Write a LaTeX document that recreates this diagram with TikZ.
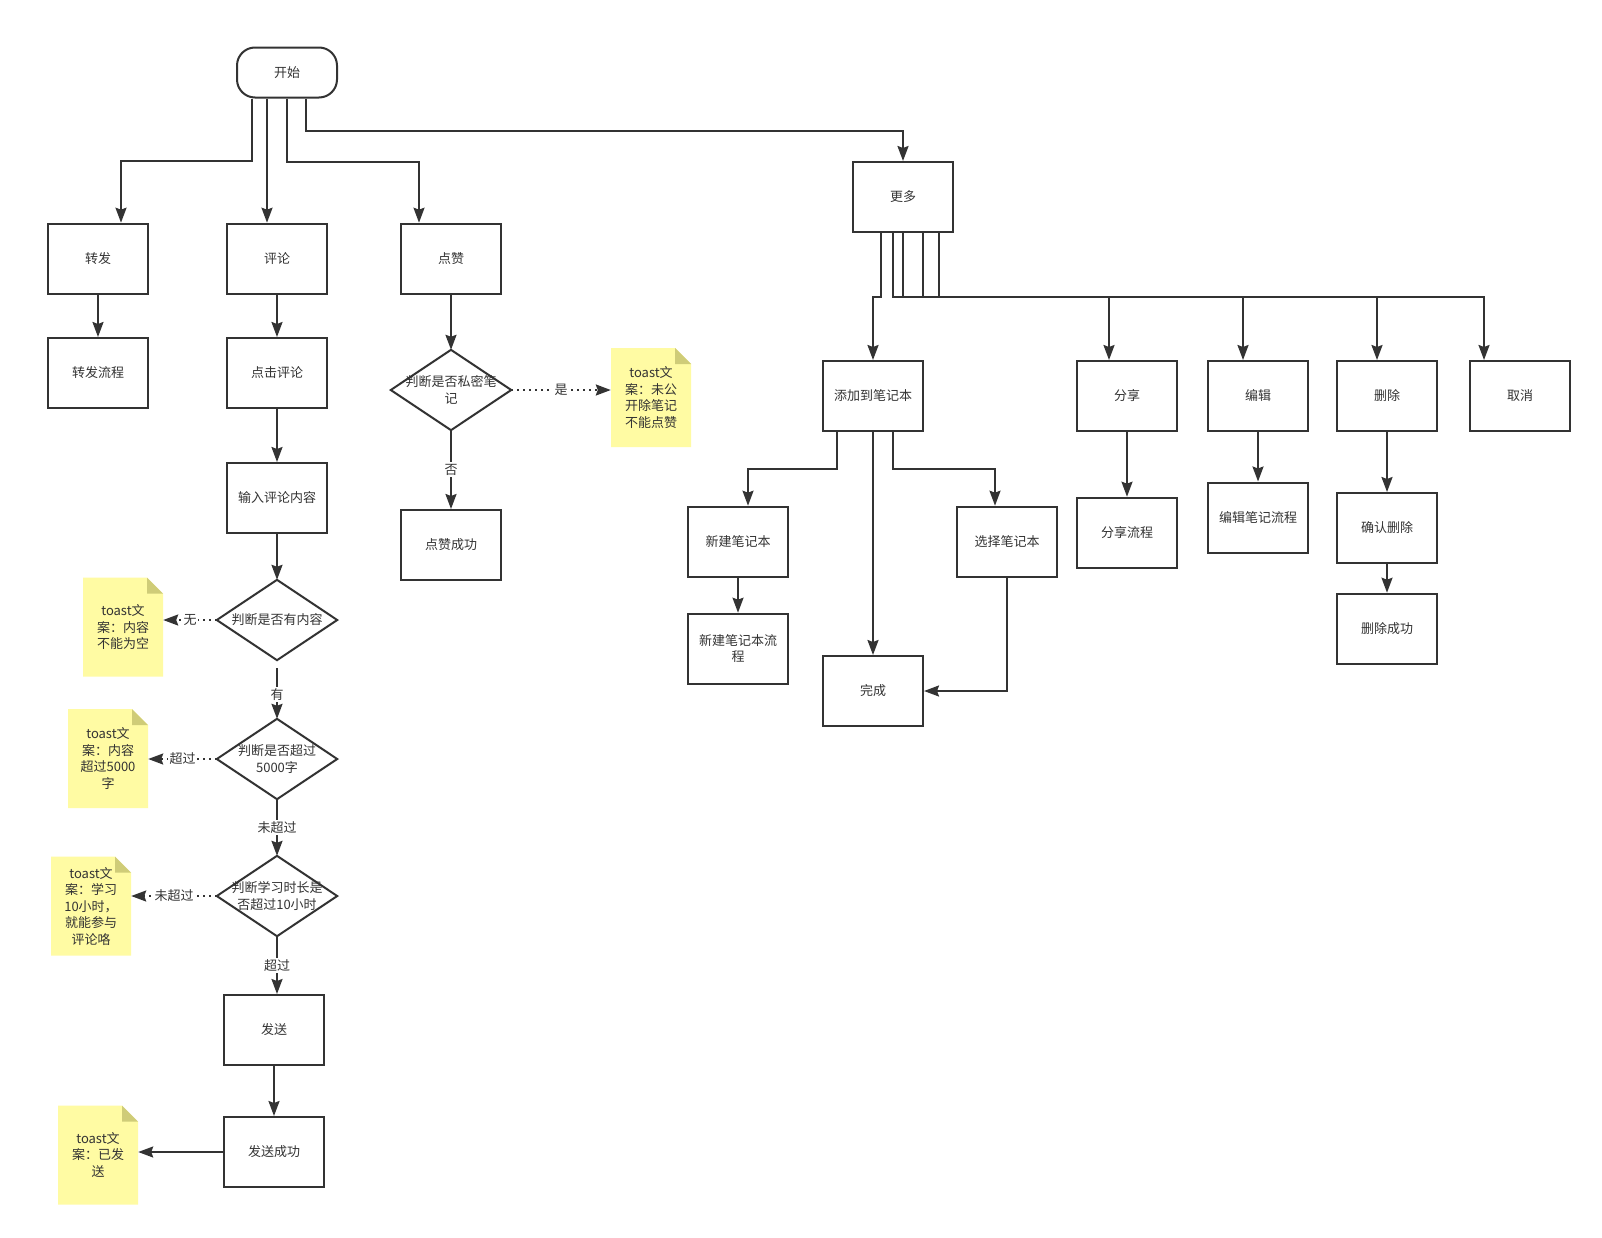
\documentclass[tikz,border=0pt]{standalone}
\usepackage{fontspec}
\setmainfont{Noto Sans CJK SC}
\usetikzlibrary{arrows.meta}
\definecolor{ln}{HTML}{333333}
\definecolor{notey}{RGB}{255,251,163}
\definecolor{notef}{RGB}{207,204,120}
\newcommand\mynote[3]{%
  \begin{scope}[shift={#2}]
    \fill[notey] (-40,-49.5) -- (24,-49.5) -- (40,-33.5) -- (40,49.5) -- (-40,49.5) -- cycle;
    \fill[notef] (24,-49.5) -- (24,-33.5) -- (40,-33.5) -- cycle;
  \end{scope}
  \node[notetext] (#1) at #2 {#3};}
\newcommand\mydiamond[3]{%
  \node[dtext] (#1) at #2 {#3};
  \draw[ln, line width=2pt, line join=miter] (#1.north) -- (#1.east) -- (#1.south) -- (#1.west) -- cycle;}
\begin{document}
\begin{tikzpicture}[x=1pt,y=-1pt,
  every node/.style={font=\fontsize{13}{16.5}\selectfont, text=ln},
  box/.style={draw=ln, line width=2pt, minimum width=100pt, minimum height=70pt, inner sep=2pt, align=center},
  term/.style={draw=ln, line width=2pt, minimum width=100pt, minimum height=50pt, rounded corners=18pt},
  dtext/.style={minimum width=120pt, minimum height=80pt, inner sep=0pt, align=center},
  notetext/.style={minimum width=80pt, minimum height=99pt, inner sep=0pt, align=center},
  arr/.style={draw=ln, line width=2pt, -{Stealth[length=15pt,width=11pt,inset=2pt]}},
  dot/.style={arr, dash pattern=on 2pt off 4pt},
  lbl/.style={fill=white, inner sep=1.5pt}]
\fill[white] (0,0) rectangle (1602,1237);
\useasboundingbox (0,0) rectangle (1602,1237);

% top
\node[term] (start) at (287,72.5) {开始};
\node[box] (zf) at (98,258.7) {转发};
\node[box] (pl) at (277,258.7) {评论};
\node[box] (dz) at (451,258.7) {点赞};
\node[box] (zflc) at (98,373) {转发流程};
\node[box] (djpl) at (277,373) {点击评论};
\node[box] (srpl) at (277,498) {输入评论内容};
\mydiamond{d1}{(277,620)}{判断是否有内容}
\mydiamond{d2}{(277,759)}{判断是否超过\\5000字}
\mydiamond{d3}{(277,896)}{判断学习时长是\\否超过10小时}
\node[box] (fs) at (274,1030) {发送};
\node[box] (fscg) at (274,1152) {发送成功};
\mynote{n1}{(123,627)}{toast文\\案：内容\\不能为空}
\mynote{n2}{(108,758.5)}{toast文\\案：内容\\超过5000\\字}
\mynote{n3}{(91,906)}{toast文\\案：学习\\10小时，\\就能参与\\评论咯}
\mynote{n4}{(98,1155)}{toast文\\案：已发\\送}

\mydiamond{dzd}{(451,390)}{判断是否私密笔\\记}
\mynote{nz}{(651,397.5)}{toast文\\案：未公\\开除笔记\\不能点赞}
\node[box] (dzcg) at (451,545) {点赞成功};

% more
\node[box] (gd) at (903,197) {更多};
\node[box] (tj) at (873,396) {添加到笔记本};
\node[box] (fx) at (1127,396) {分享};
\node[box] (bj) at (1258,396) {编辑};
\node[box] (sc) at (1387,396) {删除};
\node[box] (qx) at (1520,396) {取消};
\node[box] (xj) at (738,541.7) {新建笔记本};
\node[box] (xjlc) at (738,648.7) {新建笔记本流\\程};
\node[box] (wc) at (873,691) {完成};
\node[box] (xz) at (1007,541.7) {选择笔记本};
\node[box] (fxlc) at (1127,532.7) {分享流程};
\node[box] (bjlc) at (1258,517.5) {编辑笔记流程};
\node[box] (qrsc) at (1387,528) {确认删除};
\node[box] (sccg) at (1387,628.7) {删除成功};

% connectors from start
\draw[arr] ([xshift=-35pt]start.south) -- ++(0,62.5) -| ([xshift=23pt]zf.north);
\draw[arr] ([xshift=-20pt]start.south) -- ([xshift=-10pt]pl.north);
\draw[arr] (start.south) -- ++(0,63.5) -| ([xshift=-32pt]dz.north);
\draw[arr] ([xshift=19pt]start.south) -- ++(0,32.5) -| (gd.north);

% left column
\draw[arr] (zf) -- (zflc);
\draw[arr] (pl) -- (djpl);
\draw[arr] (djpl) -- (srpl);
\draw[arr] (srpl) -- (d1.north);
\draw[dot] (d1.west) -- node[lbl]{无} (d1.west -| n1.east);
\draw[arr, shorten <=8pt] (d1.south) -- node[lbl,pos=0.59]{有} (d2.north);
\draw[dot] (d2.west) -- node[lbl]{超过} (d2.west -| n2.east);
\draw[arr] (d2.south) -- node[lbl]{未超过} (d3.north);
\draw[dot] (d3.west) -- node[lbl]{未超过} (d3.west -| n3.east);
\draw[arr] (d3.south) -- node[lbl]{超过} (d3.south |- fs.north);
\draw[arr] (fs) -- (fscg);
\draw[arr] (fscg.west) -- (fscg.west -| n4.east);

% like
\draw[arr] (dz) -- (dzd.north);
\draw[dot] (dzd.east) -- node[lbl]{是} (dzd.east -| nz.west);
\draw[arr] (dzd.south) -- node[lbl]{否} (dzcg.north);

% more
\draw[arr] ([xshift=-22pt]gd.south) -- ++(0,64) -| (tj.north);
\draw[arr] ([xshift=-10pt]gd.south) -- ++(0,64) -| ([xshift=-18pt]fx.north);
\draw[arr] (gd.south) -- ++(0,64) -| ([xshift=-15pt]bj.north);
\draw[arr] ([xshift=20pt]gd.south) -- ++(0,64) -| ([xshift=-10pt]sc.north);
\draw[arr] ([xshift=36pt]gd.south) -- ++(0,64) -| ([xshift=-36pt]qx.north);

\draw[arr] ([xshift=-36pt]tj.south) -- ++(0,37) -| ([xshift=10pt]xj.north);
\draw[arr] (tj) -- (wc);
\draw[arr] ([xshift=20pt]tj.south) -- ++(0,37) -| ([xshift=-12pt]xz.north);
\draw[arr] (xz.south) |- (wc.east);
\draw[arr] (xj) -- (xjlc);
\draw[arr] (fx) -- (fxlc);
\draw[arr] (bj) -- (bjlc);
\draw[arr] (sc) -- (qrsc);
\draw[arr] (qrsc) -- (sccg);
\end{tikzpicture}
\end{document}
